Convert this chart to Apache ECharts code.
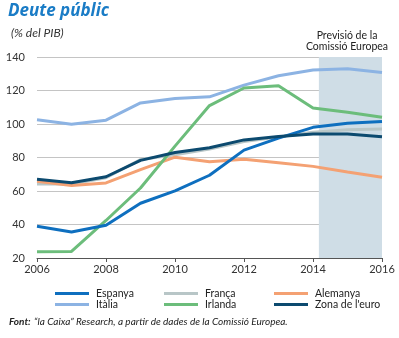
<!DOCTYPE html>
<html>
<head>
<meta charset="utf-8">
<script src="https://cdn.jsdelivr.net/npm/echarts@6/dist/echarts.min.js"></script>
<style>html,body{margin:0;padding:0;background:#fff}#c{width:399px;height:338px}</style>
</head>
<body>
<div id="c"></div>
<script>
const years = [2006, 2007, 2008, 2009, 2010, 2011, 2012, 2013, 2014, 2015, 2016];
const espanya = [38.9, 35.5, 39.6, 52.7, 60.1, 69.4, 84.4, 91.6, 98.0, 100.4, 101.5];
const italia = [102.5, 99.8, 102.3, 112.6, 115.2, 116.2, 123.2, 128.8, 132.3, 133.0, 130.7];
const franca = [64.2, 64.2, 67.9, 78.8, 81.6, 85.0, 89.5, 92.3, 95.1, 96.5, 97.0];
const alemanya = [65.8, 63.3, 64.8, 72.8, 80.2, 77.5, 79.0, 76.9, 74.7, 71.4, 68.2];
const irlanda = [23.8, 23.9, 42.4, 61.8, 86.8, 111.0, 121.5, 122.8, 109.5, 107.0, 104.0];
const zona = [67.0, 64.9, 68.5, 78.3, 83.0, 85.8, 90.5, 92.5, 94.0, 94.0, 92.4];
const forecastStart = 2014.17;
const forecastEnd = 2016;

const FONT = 'Lato';
const pairs = arr => years.map((y, i) => [y, arr[i]]);

const seriesDefs = [
  { name: 'França', data: franca, color: '#b8c6c7' },
  { name: 'Alemanya', data: alemanya, color: '#f4a173' },
  { name: 'Itàlia', data: italia, color: '#8cb3e3' },
  { name: 'Irlanda', data: irlanda, color: '#6cbd7b' },
  { name: 'Espanya', data: espanya, color: '#0e6fbf' },
  { name: "Zona de l'euro", data: zona, color: '#0c4a6f' }
];

const series = seriesDefs.map((s, i) => ({
  name: s.name,
  type: 'line',
  data: pairs(s.data),
  symbol: 'none',
  lineStyle: { width: 3, color: s.color },
  itemStyle: { color: s.color },
  z: 3 + i
}));
series[0].markArea = {
  silent: true,
  itemStyle: { color: '#cfdde6' },
  data: [[{ xAxis: forecastStart }, { xAxis: forecastEnd }]]
};
series[0].z = 2;

const legendBase = {
  orient: 'vertical',
  top: 283,
  itemWidth: 34,
  itemHeight: 3,
  itemGap: 0,
  icon: 'rect',
  textStyle: { fontFamily: FONT, fontSize: 10.5, color: '#222', lineHeight: 11, padding: [0, 0, 0, 2] },
  selectedMode: false
};

const chart = echarts.init(document.getElementById('c'));
chart.setOption({
  animation: false,
  grid: { left: 37, right: 17, top: 57, bottom: 80, containLabel: false },
  xAxis: {
    type: 'value', min: 2006, max: 2016, interval: 2,
    axisLine: { lineStyle: { color: '#555', width: 1 } },
    axisTick: { show: true, length: 4, lineStyle: { color: '#555' } },
    splitLine: { show: false },
    axisLabel: { formatter: v => String(v), fontFamily: FONT, fontSize: 11, color: '#333', margin: 6 }
  },
  yAxis: {
    type: 'value', min: 20, max: 140, interval: 20,
    axisLine: { show: false },
    axisTick: { show: false },
    splitLine: { lineStyle: { color: '#c4c4c4', width: 1 } },
    axisLabel: { fontFamily: FONT, fontSize: 11, color: '#333', margin: 12 }
  },
  legend: [
    Object.assign({}, legendBase, { left: 50, data: ['Espanya', 'Itàlia'] }),
    Object.assign({}, legendBase, { left: 159, data: ['França', 'Irlanda'] }),
    Object.assign({}, legendBase, { left: 269, data: ['Alemanya', "Zona de l'euro"] })
  ],
  graphic: [
    { type: 'text', left: 8, top: 3, style: { text: 'Deute públic', font: 'italic bold 17px "Open Sans"', fill: '#1a7cc6' } },
    { type: 'text', left: 11, top: 27, style: { text: '(% del PIB)', font: 'italic 12px ' + FONT, fill: '#333' } },
    { type: 'text', x: 347, y: 30, style: { text: 'Previsió de la\nComissió Europea', font: '10.5px ' + FONT, fill: '#222', align: 'center', verticalAlign: 'top', lineHeight: 11 } },
    { type: 'text', left: 9, top: 316, style: {
        text: '{b|Font:} {i|“la Caixa” Research, a partir de dades de la Comissió Europea.}',
        rich: {
          b: { fontFamily: FONT, fontStyle: 'italic', fontWeight: 'bold', fontSize: 10, fill: '#222' },
          i: { fontFamily: FONT, fontStyle: 'italic', fontSize: 10, fill: '#222' }
        }
    } }
  ],
  series: series
});
</script>
</body>
</html>
